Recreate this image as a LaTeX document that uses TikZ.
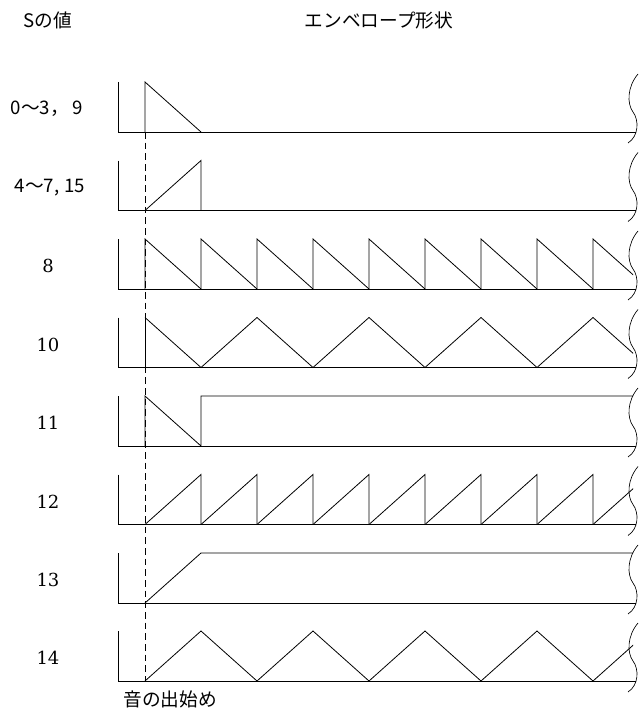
\documentclass[tikz,border=0pt]{standalone}
\usepackage{fontspec}
\newfontfamily\jp{Noto Sans CJK JP}
\newfontfamily\numfont{DejaVu Serif}
\usepackage{tikz}
\usetikzlibrary{positioning}

\begin{document}
\begin{tikzpicture}[x=0.75pt,y=-0.75pt]
\tikzstyle{txt}=[font=\jp\fontsize{14}{16}\selectfont,inner sep=0pt]
\tikzstyle{num}=[font=\numfont\fontsize{13.5}{16}\selectfont,inner sep=0pt]
\tikzstyle{wave}=[line width=0.6pt,line join=miter]
\tikzstyle{brk}=[line width=0.5pt]

\useasboundingbox (0,0) rectangle (641,710);

% Headings
\node[txt] (shead) at (48,20) {Sの値};
\node[txt] (ehead) at (379,20) {エンベロープ形状};

% Values of S
\node[txt] (s0) at (47,109) {0〜3，\hspace{3pt}9};
\node[txt] (s4) at (50,188) {4〜7,\hspace{4pt}15};
\node[num] (s8) at (48,266) {8};
\node[num] (s10) at (48,345) {10};
\node[num] (s11) at (48,423) {11};
\node[num] (s12) at (48,502) {12};
\node[num] (s13) at (48,580) {13};
\node[num] (s14) at (48,658) {14};

% Axes and break marks
\foreach \b in {132,210.5,289,367.5,446,524.5,603,681}{
  \draw[wave] (118,\b-50) -- (118,\b) -- (636,\b);
  \draw[brk] (638,\b-58) .. controls (627,\b-45) and (627,\b-28) .. (633,\b-20)
    .. controls (639,\b-12) and (639,\b+4) .. (628,\b+11);
}

% Start of sound
\coordinate (onset) at (145,132);
\coordinate (onsetend) at (145,681);
\draw[wave,dash pattern=on 5pt off 3pt] (onset) -- (onsetend);
\node[txt] (start) at (170,699) {音の出始め};

% 0-3, 9
\draw[wave] (145,132) -- (145,82) -- (201,132);
% 4-7, 15
\draw[wave] (145,210.5) -- (201,160.5) -- (201,210.5);
% 8
\begin{scope}
\clip (140,230) rectangle (633,292);
\foreach \x in {145,201,...,593}
  \draw[wave] (\x,289) -- (\x,239) -- (\x+56,289);
\end{scope}
% 10
\begin{scope}
\clip (140,310) rectangle (633,370);
\draw[wave] (145,367.5) -- (145,317.5);
\foreach \x in {145,257,...,593}
  \draw[wave] (\x,317.5) -- (\x+56,367.5) -- (\x+112,317.5);
\end{scope}
% 11
\draw[wave] (145,446) -- (145,396) -- (201,446) -- (201,396) -- (633,396);
% 12
\begin{scope}
\clip (140,465) rectangle (633,527);
\foreach \x in {145,201,...,593}
  \draw[wave] (\x,524.5) -- (\x+56,474.5) -- (\x+56,524.5);
\end{scope}
% 13
\draw[wave] (145,603) -- (201,553) -- (633,553);
% 14
\begin{scope}
\clip (140,620) rectangle (633,684);
\foreach \x in {145,257,...,593}
  \draw[wave] (\x,681) -- (\x+56,631) -- (\x+112,681);
\end{scope}

\end{tikzpicture}
\end{document}
